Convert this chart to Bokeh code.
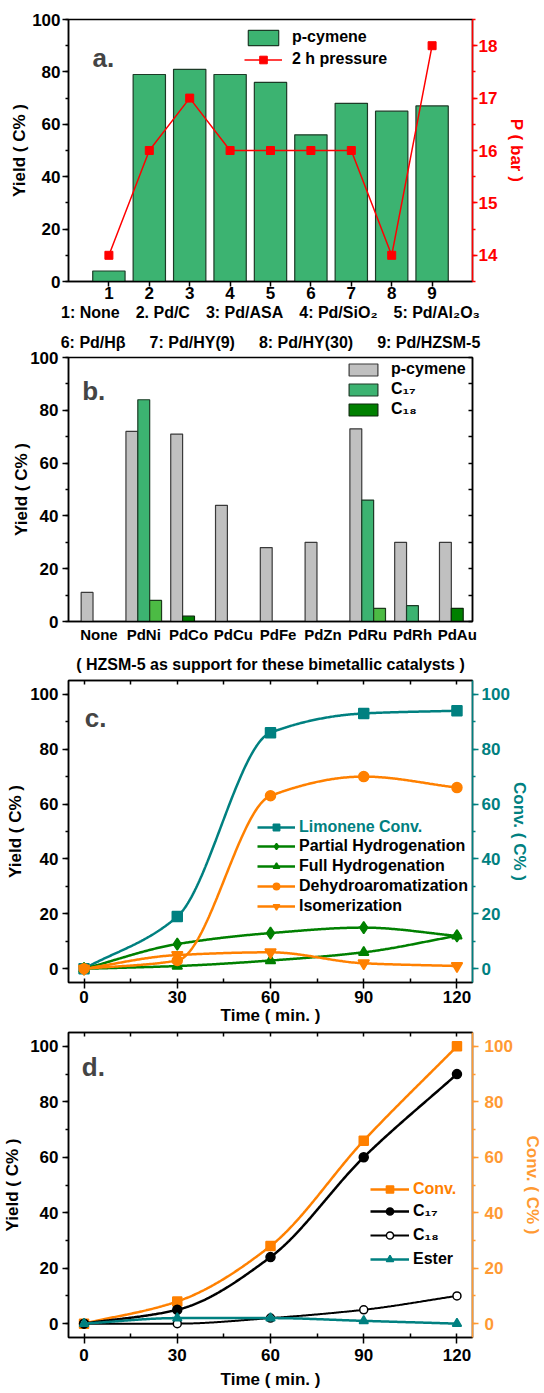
import numpy as np
from bokeh.plotting import figure
from bokeh.models import (Range1d, LinearAxis, SingleIntervalTicker, FixedTicker,
                          Legend, LegendItem, Label, Title)
from bokeh.layouts import column
from bokeh.embed import file_html
from bokeh.resources import INLINE

FONT = "Liberation Sans"

# ---------------- data ----------------
# panel a
a_idx = [1, 2, 3, 4, 5, 6, 7, 8, 9]
a_yield = [4, 79, 81, 79, 76, 56, 68, 65, 67]
a_pressure = [14, 16, 17, 16, 16, 16, 16, 14, 18]
a_line1 = ["1: None", "2. Pd/C", "3: Pd/ASA", "4: Pd/SiO\u2082", "5: Pd/Al\u2082O\u2083"]
a_line2 = ["6: Pd/H\u03b2", "7: Pd/HY(9)", "8: Pd/HY(30)", "9: Pd/HZSM-5"]

# panel b
b_cats = ["None", "PdNi", "PdCo", "PdCu", "PdFe", "PdZn", "PdRu", "PdRh", "PdAu"]
b_pcymene = [11, 72, 71, 44, 28, 30, 73, 30, 30]
b_c17 = [0, 84, 0, 0, 0, 0, 46, 6, 0]
b_c18 = [0, 8, 2, 0, 0, 0, 5, 0, 5]
b_note = "( HZSM-5 as support for these bimetallic catalysts )"

# panel c
c_time = [0, 30, 60, 90, 120]
c_conv = [0, 19, 86, 93, 94]
c_partial = [0, 9, 13, 15, 12]
c_full = [0, 1, 3, 6, 12]
c_dehydro = [0, 3, 63, 70, 66]
c_isom = [0, 5, 6, 2, 1]

# panel d
d_time = [0, 30, 60, 90, 120]
d_conv = [0, 8, 28, 66, 100]
d_c17 = [0, 5, 24, 60, 90]
d_c18 = [0, 0, 2, 5, 10]
d_ester = [0, 2, 2, 1, 0]

TEAL = "#008080"
GREEN = "#008000"
ORANGE = "#ff8000"
ORANGE_AX = "#ff9a33"
RED = "#ff0000"
W_PAGE = 544
BL, BR = 66, 68   # common frame borders (frames are aligned in a column)


def smooth(x, y, n=80):
    """Monotone-style cubic Hermite curve through the points (for drawing only)."""
    x = np.asarray(x, float); y = np.asarray(y, float)
    h = np.diff(x); delta = np.diff(y) / h
    m = len(x); d = np.zeros(m)
    for k in range(1, m - 1):
        if delta[k - 1] * delta[k] > 0:
            w1 = 2 * h[k] + h[k - 1]; w2 = h[k] + 2 * h[k - 1]
            d[k] = (w1 + w2) / (w1 / delta[k - 1] + w2 / delta[k])
    d[0] = delta[0]
    d[-1] = delta[-1]
    xs, ys = [], []
    for k in range(m - 1):
        t = np.linspace(0, 1, n, endpoint=(k == m - 2))
        h00 = 2 * t**3 - 3 * t**2 + 1; h10 = t**3 - 2 * t**2 + t
        h01 = -2 * t**3 + 3 * t**2; h11 = t**3 - t**2
        xs.append(x[k] + t * h[k])
        ys.append(h00 * y[k] + h10 * h[k] * d[k] + h01 * y[k + 1] + h11 * h[k] * d[k + 1])
    return np.concatenate(xs), np.concatenate(ys)


def style_axis(ax, color="black", lab="17px", tick_out=6, minor_out=3):
    ax.axis_line_color = color
    ax.axis_line_width = 1.5
    ax.major_tick_line_color = color
    ax.minor_tick_line_color = color
    ax.major_tick_line_width = 1.5
    ax.minor_tick_line_width = 1.5
    ax.major_tick_out = tick_out
    ax.major_tick_in = 0
    ax.minor_tick_out = minor_out
    ax.minor_tick_in = 0
    ax.major_label_text_color = color
    ax.major_label_text_font = FONT
    ax.major_label_text_font_style = "bold"
    ax.major_label_text_font_size = lab
    ax.axis_label_text_font = FONT
    ax.axis_label_text_font_style = "bold"
    ax.axis_label_text_font_size = "17px"
    ax.axis_label_text_color = color


def tick_only_axis(minor_ticks, length):
    ax = LinearAxis(ticker=FixedTicker(ticks=[], minor_ticks=minor_ticks))
    style_axis(ax)
    ax.minor_tick_out = 0
    ax.minor_tick_in = length
    ax.major_label_standoff = 0
    return ax


def base_fig(h, xr, yr, bt, bb):
    p = figure(width=W_PAGE, height=h, x_range=xr, y_range=yr, output_backend="svg",
               toolbar_location=None, min_border_left=BL, min_border_right=BR,
               min_border_top=bt, min_border_bottom=bb)
    p.xgrid.visible = False
    p.ygrid.visible = False
    p.outline_line_color = "black"
    p.outline_line_width = 1.5
    return p


def text_title(text, standoff):
    return Title(text=text, align="center", standoff=standoff, text_font=FONT,
                 text_font_style="bold", text_font_size="16px", text_color="black")


def legend(items, loc, color="black", gw=38, gh=18, lh=20, size="16px", standoff=6):
    return Legend(items=items, location=loc, padding=0, margin=0, spacing=0,
                  glyph_width=gw, glyph_height=gh, label_height=lh, label_standoff=standoff,
                  border_line_color=None, background_fill_alpha=0,
                  label_text_font=FONT, label_text_font_style="bold",
                  label_text_font_size=size, label_text_color=color)


def panel_label(p, text, x, y):
    p.add_layout(Label(x=x, y=y, x_units="screen", y_units="screen", text=text,
                       text_font=FONT, text_font_style="bold", text_font_size="26px",
                       text_baseline="alphabetic"))


# ---------------- panel a ----------------
pa = base_fig(325, Range1d(0, 10), Range1d(0, 100), 19, 44)
pa.extra_y_ranges = {"p": Range1d(13.5, 18.5)}
bars_a = pa.vbar(x=a_idx, top=a_yield, width=0.8, fill_color="#3cb371",
                 line_color="#1c3b27", line_width=1.2)
pl = pa.line(a_idx, a_pressure, y_range_name="p", line_color=RED, line_width=1.5)
ps = pa.scatter(a_idx, a_pressure, y_range_name="p", marker="square", size=8,
                fill_color=RED, line_color=RED)
ax = pa.yaxis[0]
ax.ticker = SingleIntervalTicker(interval=20, num_minor_ticks=2)
style_axis(ax)
ax.axis_label = "Yield ( C% )"
ax.major_label_standoff = 2
ax.axis_label_standoff = 0
bx = pa.xaxis[0]
bx.ticker = FixedTicker(ticks=a_idx, minor_ticks=[])
style_axis(bx, tick_out=5)
bx.major_label_standoff = 0
rax = LinearAxis(y_range_name="p", ticker=SingleIntervalTicker(interval=1, num_minor_ticks=2),
                 axis_label="P ( bar )")
style_axis(rax, color=RED, tick_out=5)
rax.major_label_standoff = 1
rax.axis_label_standoff = 7
pa.add_layout(rax, "right")
pa.add_layout(legend([LegendItem(label="p-cymene", renderers=[bars_a]),
                      LegendItem(label="2 h pressure", renderers=[pl, ps])],
                     (176, 211), gh=19, lh=22, standoff=10))
panel_label(pa, "a.", 24, 223.7)
pa.add_layout(text_title("\u2003".join(a_line1), 0), "below")

# ---------------- panel b ----------------
pb = base_fig(320, Range1d(-0.68, 8.34), Range1d(0, 100), 31, 24)
pb.add_layout(text_title("\u2003\u2002".join(a_line2), 13), "above")
W = 0.265
gi = list(range(len(b_cats)))
bars_g = pb.vbar(x=[i - W for i in gi], top=b_pcymene, width=W, fill_color="#c0c0c0",
                 line_color="#3a3a3a", line_width=1.2)
c17_x = [i for i, v in zip(gi, b_c17) if v > 0]
c17_v = [v for v in b_c17 if v > 0]
bars_17 = pb.vbar(x=c17_x, top=c17_v, width=W, fill_color="#3cb371",
                  line_color="#1c3b27", line_width=1.2)
dk_x = [i for i, v, c in zip(gi, b_c18, b_c17) if v > 0 and c == 0]
dk_v = [v for v, c in zip(b_c18, b_c17) if v > 0 and c == 0]
lt_x = [i + W for i, v, c in zip(gi, b_c18, b_c17) if v > 0 and c > 0]
lt_v = [v for v, c in zip(b_c18, b_c17) if v > 0 and c > 0]
bars_18 = pb.vbar(x=dk_x, top=dk_v, width=W, fill_color=GREEN,
                  line_color="#0b2a0b", line_width=1.2)
pb.vbar(x=lt_x, top=lt_v, width=W, fill_color="#4cbb44", line_color="#1c3b1c", line_width=1.2)
ax = pb.yaxis[0]
ax.ticker = SingleIntervalTicker(interval=20, num_minor_ticks=2)
style_axis(ax)
ax.axis_label = "Yield ( C% )"
ax.major_label_standoff = 4
ax.axis_label_standoff = -4
bx = pb.xaxis[0]
bx.ticker = FixedTicker(ticks=gi, minor_ticks=[])
bx.major_label_overrides = {i: c for i, c in zip(gi, b_cats)}
style_axis(bx, lab="15px", tick_out=0)
bx.major_label_standoff = 4
pb.add_layout(tick_only_axis(list(range(0, 101, 10)), 4), "right")
pb.add_layout(legend([LegendItem(label="p-cymene", renderers=[bars_g]),
                      LegendItem(label="C\u2081\u2087", renderers=[bars_17]),
                      LegendItem(label="C\u2081\u2088", renderers=[bars_18])],
                     (277, 202), gw=36, gh=15, lh=20, standoff=10))
panel_label(pb, "b.", 13.7, 231)


# ---------------- helper for time plots ----------------
def time_axes(p, rcolor, rlabel, yl_std, t_std, tl_std, r_std, rl_std):
    ax = p.yaxis[0]
    ax.ticker = SingleIntervalTicker(interval=20, num_minor_ticks=2)
    style_axis(ax, tick_out=6)
    ax.axis_label = "Yield ( C% )"
    ax.major_label_standoff = 4
    ax.axis_label_standoff = yl_std
    bx = p.xaxis[0]
    bx.ticker = SingleIntervalTicker(interval=30, num_minor_ticks=2)
    style_axis(bx, tick_out=6)
    bx.minor_tick_out = 0
    bx.minor_tick_in = 4
    bx.axis_label = "Time ( min. )"
    bx.major_label_standoff = t_std
    bx.axis_label_standoff = tl_std
    r = LinearAxis(ticker=SingleIntervalTicker(interval=20, num_minor_ticks=2), axis_label=rlabel)
    style_axis(r, color=rcolor, tick_out=6)
    r.major_label_standoff = r_std
    r.axis_label_standoff = rl_std
    p.add_layout(r, "right")
    p.add_layout(tick_only_axis(list(range(0, 121, 15)), 4), "above")


def series(p, x, y, color, marker, size=9, fill=None, lw=2.5):
    sx, sy = smooth(x, y)
    l = p.line(sx, sy, line_color=color, line_width=lw)
    s = p.scatter(x, y, marker=marker, size=size, fill_color=fill or color, line_color=color,
                  line_width=1.5)
    return [l, s]


# ---------------- panel c ----------------
pc = base_fig(384, Range1d(-5, 125), Range1d(-5, 105), 34, 47)
time_axes(pc, TEAL, "Conv. ( C% )", 2, 2, 0, 3, -3)
pc.add_layout(text_title(b_note, 16), "above")
r_conv = series(pc, c_time, c_conv, TEAL, "square", size=10)
r_part = series(pc, c_time, c_partial, GREEN, "diamond", size=12)
r_full = series(pc, c_time, c_full, GREEN, "triangle", size=10)
r_deh = series(pc, c_time, c_dehydro, ORANGE, "circle", size=10)
r_iso = series(pc, c_time, c_isom, ORANGE, "inverted_triangle", size=11)
pc.add_layout(legend([LegendItem(label="Limonene Conv.", renderers=r_conv)],
                     (189, 145), color=TEAL, gw=38, gh=16, lh=20, standoff=4))
pc.add_layout(legend([LegendItem(label="Partial Hydrogenation", renderers=r_part),
                      LegendItem(label="Full Hydrogenation", renderers=r_full),
                      LegendItem(label="Dehydroaromatization", renderers=r_deh),
                      LegendItem(label="Isomerization", renderers=r_iso)],
                     (189, 66), gw=38, gh=16, lh=20, standoff=4))
panel_label(pc, "c.", 16.2, 264.3)

# ---------------- panel d ----------------
pd_ = base_fig(364, Range1d(-5, 125), Range1d(-5, 105), 3, 56)
time_axes(pd_, ORANGE_AX, "Conv. ( C% )", 5, 5, 6, 6, 7)
r_dconv = series(pd_, d_time, d_conv, ORANGE, "square", size=9)
r_d17 = series(pd_, d_time, d_c17, "black", "circle", size=9)
r_d18 = series(pd_, d_time, d_c18, "black", "circle", size=8, fill="white", lw=2)
r_dest = series(pd_, d_time, d_ester, TEAL, "triangle", size=9)
pd_.add_layout(legend([LegendItem(label="Conv.", renderers=r_dconv)],
                      (302, 136), color=ORANGE, gw=39, gh=18, lh=24, standoff=4))
pd_.add_layout(legend([LegendItem(label="C\u2081\u2087", renderers=r_d17),
                       LegendItem(label="C\u2081\u2088", renderers=r_d18),
                       LegendItem(label="Ester", renderers=r_dest)],
                      (302, 66), gw=39, gh=18, lh=24, standoff=4))
panel_label(pd_, "d.", 13.3, 270.3)

layout = column(pa, pb, pc, pd_, spacing=0)
open("out.html", "w").write(file_html(layout, INLINE))
